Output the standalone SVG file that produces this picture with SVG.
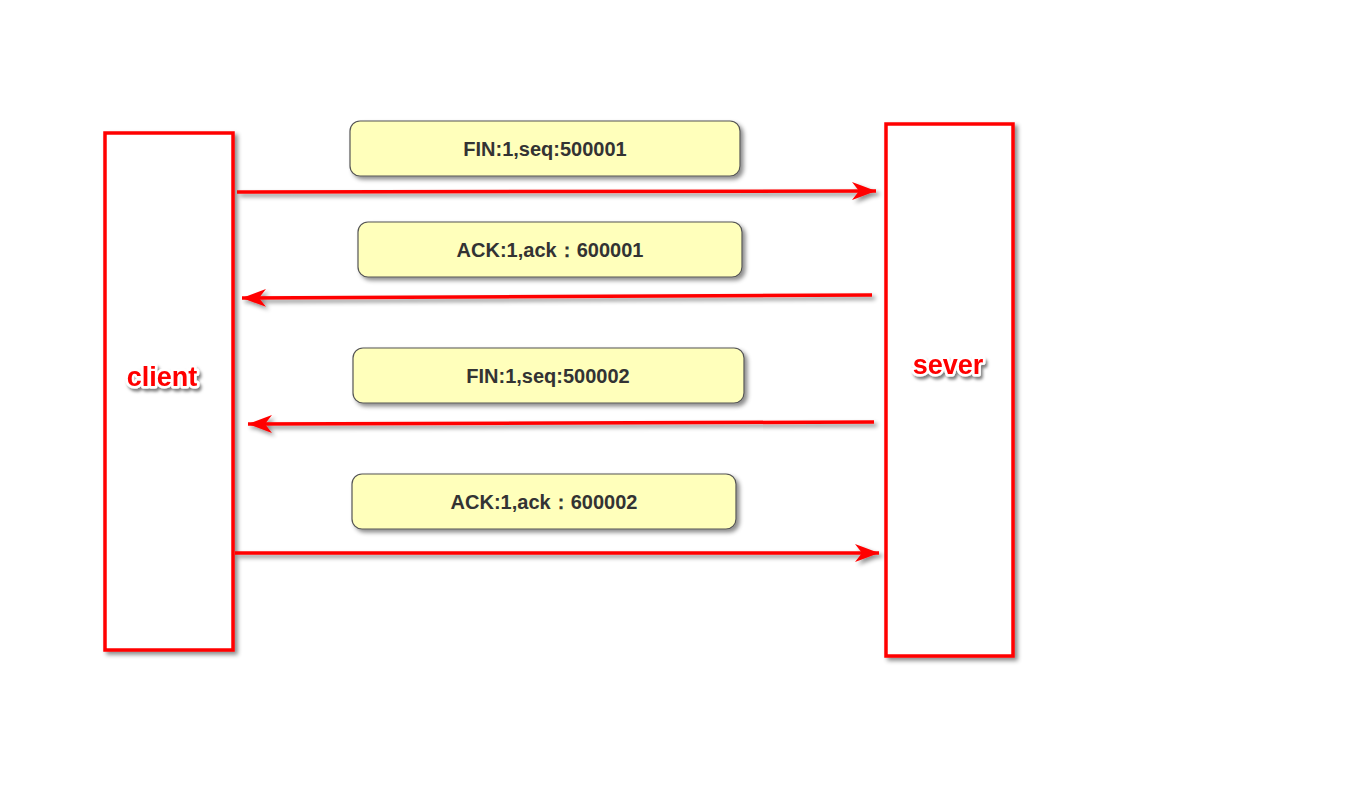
<svg xmlns="http://www.w3.org/2000/svg" width="1354" height="805" viewBox="0 0 1354 805">
<defs>
<filter id="sh" x="-20%" y="-20%" width="140%" height="140%">
<feDropShadow dx="3" dy="3" stdDeviation="2" flood-color="#000" flood-opacity="0.45"/>
</filter>
<filter id="tsh" x="-20%" y="-40%" width="140%" height="180%">
<feDropShadow dx="2" dy="3" stdDeviation="1.5" flood-color="#000" flood-opacity="0.5"/>
</filter>
<marker id="ah" markerUnits="userSpaceOnUse" markerWidth="28" markerHeight="22" refX="24" refY="10" orient="auto" viewBox="0 0 28 22">
<path d="M0,1 L24,10 L0,19 L7,10 Z" fill="#ff0000"/>
</marker>
<style>
.lane{fill:#fff;stroke:#ff0000;stroke-width:3.5}
.msg{fill:#ffffbb;stroke:#555;stroke-width:1.2}
.mt{font-family:"Liberation Sans",Arial,sans-serif;font-weight:bold;font-size:20px;fill:#333;text-anchor:middle}
.lt{font-family:"Liberation Sans",Arial,sans-serif;font-weight:bold;font-size:27px;fill:#ff0000;stroke:#fff;stroke-width:5;paint-order:stroke;stroke-linejoin:round;text-anchor:middle}
.con{stroke:#ff0000;stroke-width:3.5;fill:none;marker-end:url(#ah)}
</style>
</defs>
<rect width="1354" height="805" fill="#fff"/>
<g id="client">
<rect class="lane" x="105" y="133" width="128" height="517" filter="url(#sh)"/>
<text class="lt" x="162" y="386" filter="url(#tsh)">client</text>
</g>
<g id="server">
<rect class="lane" x="886" y="124" width="127" height="532" filter="url(#sh)"/>
<text class="lt" x="948" y="374" filter="url(#tsh)">sever</text>
</g>
<g id="msg1">
<rect class="msg" x="350" y="121" width="390" height="55" rx="10" filter="url(#sh)"/>
<text class="mt" x="545" y="156">FIN:1,seq:500001</text>
</g>
<g id="msg2">
<rect class="msg" x="358" y="222" width="384" height="55" rx="10" filter="url(#sh)"/>
<text class="mt" x="550" y="257">ACK:1,ack：600001</text>
</g>
<g id="msg3">
<rect class="msg" x="353" y="348" width="391" height="55" rx="10" filter="url(#sh)"/>
<text class="mt" x="548" y="383">FIN:1,seq:500002</text>
</g>
<g id="msg4">
<rect class="msg" x="352" y="474" width="384" height="55" rx="10" filter="url(#sh)"/>
<text class="mt" x="544" y="509">ACK:1,ack：600002</text>
</g>
<g id="connectors" filter="url(#sh)">
<path class="con" d="M237,192 L876,191"/>
<path class="con" d="M872,295 L242,298"/>
<path class="con" d="M874,422 L248,424"/>
<path class="con" d="M235,553 L879,553"/>
</g>
</svg>
